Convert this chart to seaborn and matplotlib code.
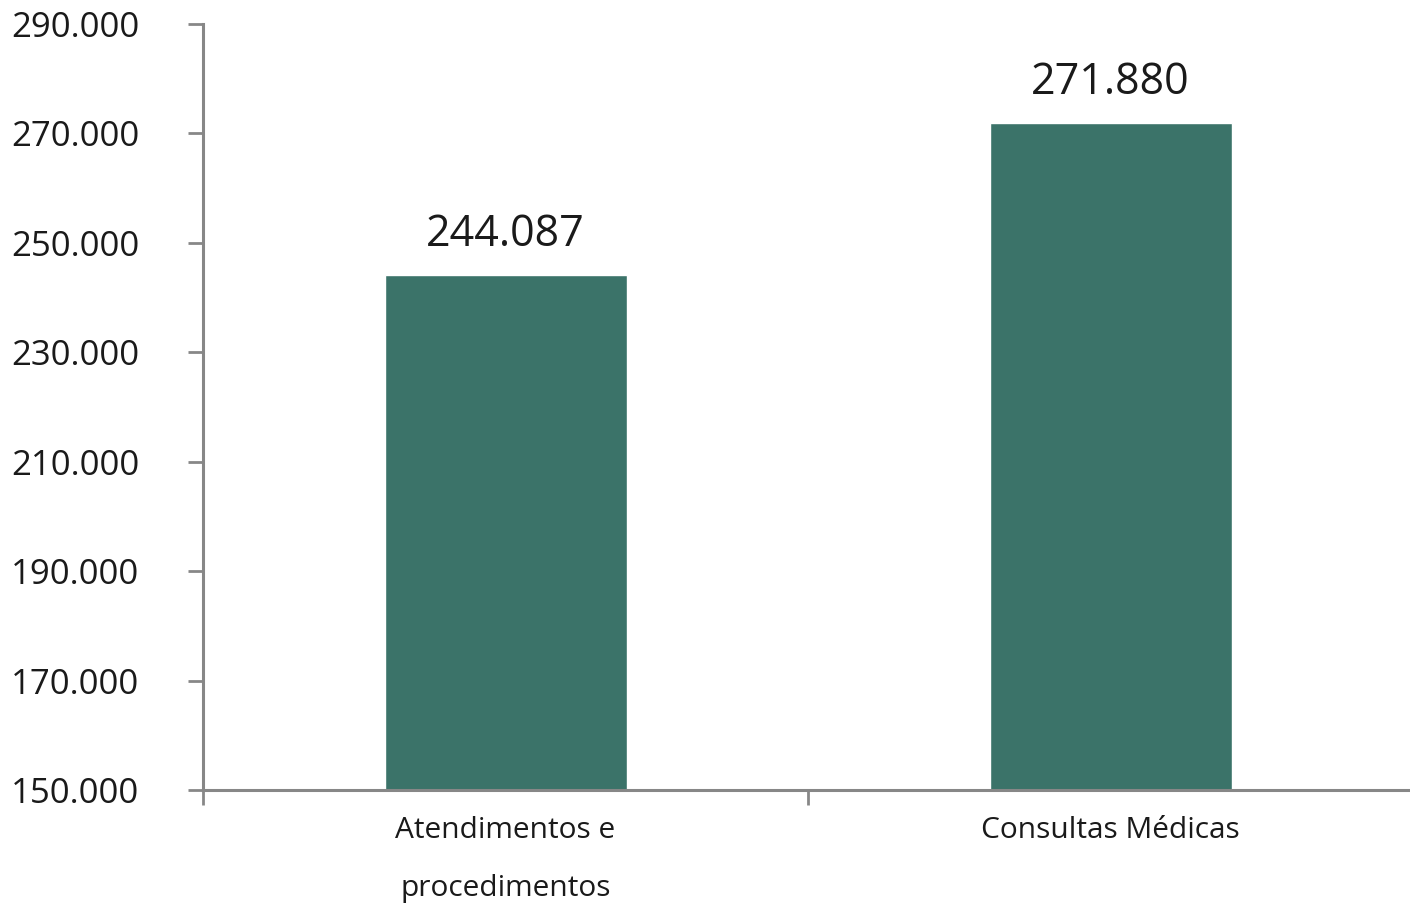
import matplotlib
matplotlib.use('Agg')
import matplotlib.pyplot as plt
import seaborn as sns
import pandas as pd
from matplotlib.ticker import FuncFormatter, FixedLocator

categories = ['Atendimentos e\nprocedimentos', 'Consultas Médicas']
values = [244087, 271880]
y_ticks = [150000, 170000, 190000, 210000, 230000, 250000, 270000, 290000]

bar_color = '#3b7369'
axis_color = '#878787'

sns.set_theme(style='white')
plt.rcParams['font.family'] = ['Open Sans', 'DejaVu Sans']


def pt_fmt(v, pos=None):
    return f'{int(round(v)):,}'.replace(',', '.')


df = pd.DataFrame({'categoria': categories, 'valor': values})

fig = plt.figure(figsize=(14.1, 9.05), dpi=100)
ax = fig.add_axes([203 / 1410, 1 - 790 / 905, (1413 - 203) / 1410, (790 - 24) / 905])

sns.barplot(data=df, x='categoria', y='valor', color=bar_color, width=0.4,
            saturation=1, ax=ax)

ax.set_ylim(150000, 290000)
ax.set_xlim(-0.5, 1.5)
ax.yaxis.set_major_locator(FixedLocator(y_ticks))
ax.yaxis.set_major_formatter(FuncFormatter(pt_fmt))
ax.set_xlabel('')
ax.set_ylabel('')

# category boundary ticks, labels at centres
ax.set_xticks([0, 1])
ax.set_xticklabels(categories, fontsize=21.5, color='#1a1a1a', linespacing=2.3)
ax.set_xticks([-0.5, 0.5, 1.5], minor=True)
ax.tick_params(axis='x', which='major', bottom=True, length=0, pad=19)
ax.tick_params(axis='x', which='minor', bottom=True, length=11, width=2,
               color=axis_color, direction='out')
ax.tick_params(axis='y', left=True, length=11, width=2, color=axis_color, direction='out',
               labelsize=25, labelcolor='#1a1a1a', pad=35)

for side in ['top', 'right']:
    ax.spines[side].set_visible(False)
for side in ['left', 'bottom']:
    ax.spines[side].set_color(axis_color)
    ax.spines[side].set_linewidth(2.2)

for i, v in enumerate(values):
    ax.text(i, v + 3400, pt_fmt(v), ha='center', va='bottom', fontsize=31, color='#1a1a1a')

fig.savefig('out.png', dpi=100)
plt.close(fig)
